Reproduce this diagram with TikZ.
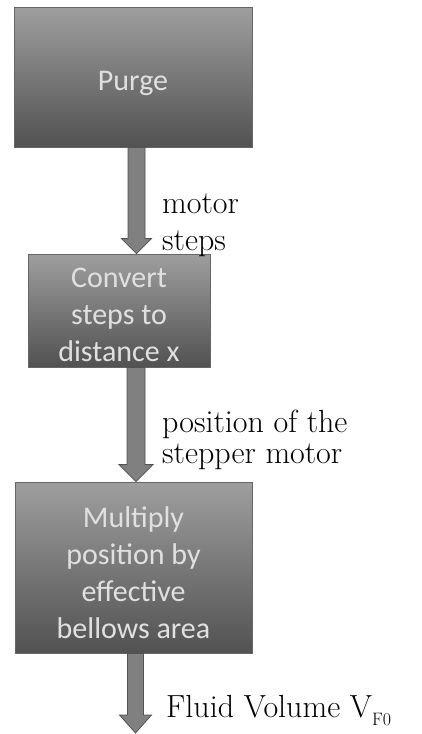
\documentclass[tikz,border=0pt]{standalone}
\usepackage{fontspec}
\newfontfamily\boxfont{Carlito}
\usetikzlibrary{calc}
\tikzset{
  procbox/.style={draw=black!60, line width=0.8pt, top color=black!38, bottom color=black!68,
    inner sep=0pt},
  boxtext/.style={inner sep=0pt, align=center, text=black!12, font=\boxfont\fontsize{30}{37}\selectfont},
  lbl/.style={anchor=base west, inner sep=0pt, font=\fontsize{32}{37}\selectfont},
  flowarr/.style={fill=black!50, draw=black!68, line width=0.8pt, line join=miter}
}
\newcommand\flowarrow[5]{% start, end, shaft half, head half, head length
  \path[flowarr] ($(#1)+(-#3,0)$) -- ($(#2)+(-#3,-#5)$) -- ($(#2)+(-#4,-#5)$) -- (#2)
    -- ($(#2)+(#4,-#5)$) -- ($(#2)+(#3,-#5)$) -- ($(#1)+(#3,0)$) -- cycle;}
\begin{document}
\begin{tikzpicture}[x=1pt,y=-1pt]
  \useasboundingbox (0,0) rectangle (422,734);
  \node[procbox, minimum width=238pt, minimum height=140pt] (b1) at (133,77) {};
  \node[procbox, minimum width=182pt, minimum height=113pt] (b2) at (119,310.5) {};
  \node[procbox, minimum width=237pt, minimum height=171pt] (b3) at (133.5,567.5) {};
  \node[boxtext] (b1t) at ($(b1.center)+(0,6)$) {Purge};
  \node[boxtext] (b2t) at ($(b2.center)+(0,4)$) {Convert\\steps to\\distance x};
  \node[boxtext] (b3t) at ($(b3.center)+(0,5)$) {Multiply\\position by\\effective\\bellows area};
  \coordinate (a1x) at (136.5,0);
  \coordinate (a2x) at (136,0);
  \coordinate (a3x) at (135.5,0);
  \coordinate (s1) at (b1.south -| a1x);
  \coordinate (e1) at (b2.north -| a1x);
  \coordinate (s2) at (b2.south -| a2x);
  \coordinate (e2) at (b3.north -| a2x);
  \coordinate (s3) at (b3.south -| a3x);
  \coordinate (e3) at (135.5,733);
  \flowarrow{s1}{e1}{8.5}{15}{15}
  \flowarrow{s2}{e2}{9}{17}{17}
  \flowarrow{s3}{e3}{8}{16}{18}
  \node[lbl] (l1a) at (162,213) {motor};
  \node[lbl] (l1b) at (162,250) {steps};
  \node[lbl] (l2a) at (162,432) {position of the};
  \node[lbl] (l2b) at (162,463) {stepper motor};
  \node[lbl] (l3) at (166,717) {Fluid Volume V\raisebox{-8pt}{\fontsize{18}{18}\selectfont F0}};
\end{tikzpicture}
\end{document}
